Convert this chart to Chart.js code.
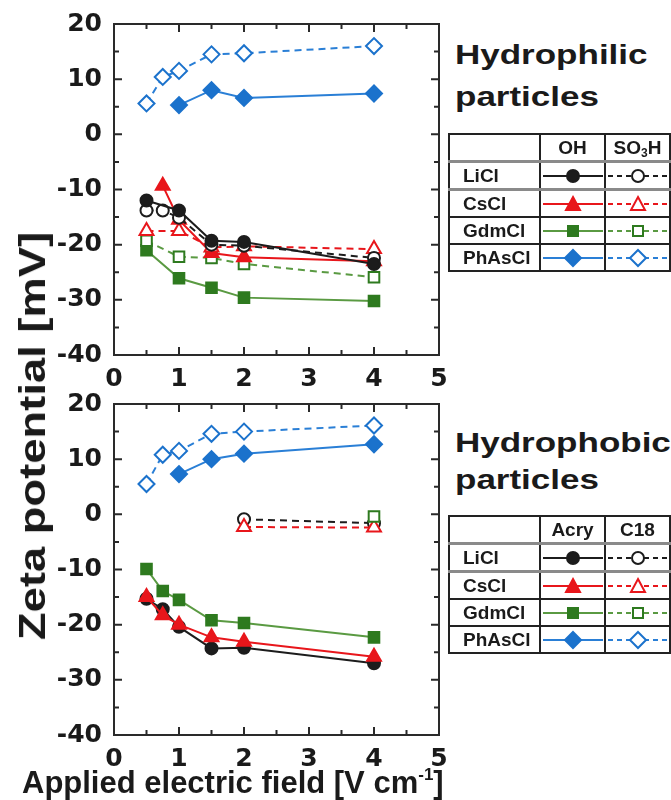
<!DOCTYPE html>
<html>
<head>
<meta charset="utf-8">
<script src="https://cdn.jsdelivr.net/npm/chart.js@4.4.0/dist/chart.umd.min.js"></script>
<style>
  body { margin: 0; width: 671px; height: 800px; overflow: hidden; position: relative; background: #fff;
         font-family: "Liberation Sans", Arial, sans-serif; font-weight: bold; color: #1a1a1a; }
  .plot { position: absolute; left: 0; }
  #topChart { top: 0; }
  #bottomChart { top: 380px; }
  .panel-title { position: absolute; left: 455px; font-size: 28px; line-height: 1; white-space: nowrap;
                 transform: scaleX(1.25); transform-origin: left center; }
  #yTitle { position: absolute; left: 33px; top: 436px; font-size: 36px; line-height: 1; white-space: nowrap;
            transform: translate(-50%, -50%) rotate(-90deg) scaleX(1.26); }
  #xTitle { position: absolute; left: 22px; top: 767px; font-size: 31px; line-height: 1; white-space: nowrap; }
  #xTitle sup { font-size: 17px; vertical-align: 13px; line-height: 0; }
  table.key { position: absolute; left: 448px; border-collapse: collapse; font-size: 19px; }
  table.key td { border: 2px solid #222; height: 25px; padding: 0; text-align: center; }
  table.key td.name { text-align: left; padding-left: 13px; width: 78px; }
  table.key td.sym { width: 63px; }
  table.key tr.head td { border-bottom: 3px solid #8a8a8a; }
  table.key tr.first td { border-bottom: 3px solid #8a8a8a; }
  table.key svg { display: block; margin: 0 auto; }
  sub { font-size: 12px; vertical-align: -3px; line-height: 0; }
</style>
</head>
<body>
<canvas id="topChart" class="plot" width="450" height="390"></canvas>
<canvas id="bottomChart" class="plot" width="450" height="390"></canvas>

<div class="panel-title" style="top:41px">Hydrophilic</div>
<div class="panel-title" style="top:83px">particles</div>
<div class="panel-title" style="top:429px">Hydrophobic</div>
<div class="panel-title" style="top:466px">particles</div>

<div id="yTitle">Zeta potential [mV]</div>
<div id="xTitle">Applied electric field [V cm<sup>-1</sup>]</div>

<table class="key" id="keyTop" style="top:133px"></table>
<table class="key" id="keyBottom" style="top:515px"></table>

<script>
// applied field (V/cm) shared by both panels
const fields = [0.5, 0.75, 1, 1.5, 2, 4];
const salts = ["LiCl", "CsCl", "GdmCl", "PhAsCl"];

// hydrophilic particles: OH (solid) and SO3H (dashed)
const liclOH    = [-12.0, null, -13.8, -19.3, -19.5, -23.5];
const liclSO3H  = [-13.8, -13.8, -15.1, -20.0, -20.2, -22.4];
const csclOH    = [null, -9.3, -15.5, -21.5, -22.3, -23.0];
const csclSO3H  = [-17.5, null, -17.5, -20.5, -20.3, -20.8];
const gdmOH     = [-21.0, null, -26.1, -27.8, -29.6, -30.2];
const gdmSO3H   = [-19.3, null, -22.2, -22.4, -23.5, -25.9];
const phasOH    = [null, null, 5.3, 8.0, 6.6, 7.4];
const phasSO3H  = [5.6, 10.4, 11.5, 14.5, 14.7, 16.0];

// hydrophobic particles: Acry (solid) and C18 (dashed)
const liclAcry  = [-15.3, -17.2, -20.4, -24.3, -24.2, -27.0];
const liclC18   = [null, null, null, null, -0.9, -1.6];
const csclAcry  = [-15.0, -18.3, -20.0, -22.3, -23.1, -25.8];
const csclC18   = [null, null, null, null, -2.3, -2.4];
const gdmAcry   = [-9.9, -13.9, -15.5, -19.2, -19.7, -22.3];
const gdmC18    = [null, null, null, null, null, -0.4];
const phasAcry  = [null, null, 7.3, 10.0, 11.0, 12.7];
const phasC18   = [5.5, 10.8, 11.5, 14.6, 15.0, 16.1];

const xTicks = [0, 1, 2, 3, 4, 5];
const yTicks = [-40, -30, -20, -10, 0, 10, 20];

const saltStyle = {
  LiCl:   { marker: "circle",   color: "#1c1c1c", line: "#1c1c1c", radius: 6 },
  CsCl:   { marker: "triangle", color: "#e8161b", line: "#e8161b", radius: 8 },
  GdmCl:  { marker: "rect",     color: "#2e7a1f", line: "#5a9a42", radius: 7.5 },
  PhAsCl: { marker: "rectRot",  color: "#1b72cc", line: "#2a7fd6", radius: 8 }
};

function series(salt, values, dashed) {
  const s = saltStyle[salt];
  return {
    label: salt + (dashed ? " dashed" : ""),
    data: fields.map((f, i) => ({ x: f, y: values[i] })),
    showLine: true,
    spanGaps: true,
    borderColor: s.line,
    borderWidth: 2,
    borderDash: dashed ? [7, 5] : [],
    pointStyle: s.marker,
    pointRadius: s.radius,
    pointBorderWidth: 2,
    pointBorderColor: s.color,
    pointBackgroundColor: dashed ? "#ffffff" : s.color
  };
}

// box with inward major/minor ticks on all four sides
const frameTicks = {
  id: "frameTicks",
  beforeDatasetsDraw(chart) {
    const { ctx, chartArea: a, scales: { x, y } } = chart;
    ctx.save();
    ctx.strokeStyle = "#2a2a2a";
    ctx.lineWidth = 2;
    ctx.strokeRect(a.left, a.top, a.right - a.left, a.bottom - a.top);
    ctx.beginPath();
    for (let v = 0.5; v < 5; v += 0.5) {
      const px = x.getPixelForValue(v);
      const len = v % 1 === 0 ? 8 : 5;
      ctx.moveTo(px, a.bottom); ctx.lineTo(px, a.bottom - len);
      ctx.moveTo(px, a.top); ctx.lineTo(px, a.top + len);
    }
    for (let v = -35; v < 20; v += 5) {
      const py = y.getPixelForValue(v);
      const len = v % 10 === 0 ? 8 : 5;
      ctx.moveTo(a.left, py); ctx.lineTo(a.left + len, py);
      ctx.moveTo(a.right, py); ctx.lineTo(a.right - len, py);
    }
    ctx.stroke();
    ctx.restore();
  }
};

const tickFont = { family: "DejaVu Sans", weight: "bold", size: 25 };

function makeChart(id, datasets) {
  return new Chart(id, {
    type: "scatter",
    data: { datasets },
    options: {
      responsive: false,
      animation: false,
      layout: { padding: { top: 24, right: 11, left: 0, bottom: 0 } },
      plugins: { legend: { display: false }, tooltip: { enabled: false } },
      scales: {
        x: {
          min: 0, max: 5,
          grid: { display: false },
          border: { display: false },
          afterBuildTicks: (scale) => { scale.ticks = xTicks.map(v => ({ value: v })); },
          afterFit: (scale) => { scale.height = 35; },
          ticks: { color: "#1a1a1a", font: tickFont, padding: 1, maxRotation: 0 }
        },
        y: {
          min: -40, max: 20,
          grid: { display: false },
          border: { display: false },
          afterBuildTicks: (scale) => { scale.ticks = yTicks.map(v => ({ value: v })); },
          afterFit: (scale) => { scale.width = 114; },
          ticks: { color: "#1a1a1a", font: tickFont, padding: 4 }
        }
      }
    },
    plugins: [frameTicks]
  });
}

// first dataset ends up drawn on top
makeChart("topChart", [
  series("PhAsCl", phasOH, false), series("PhAsCl", phasSO3H, true),
  series("LiCl", liclOH, false), series("LiCl", liclSO3H, true),
  series("CsCl", csclSO3H, true), series("CsCl", csclOH, false),
  series("GdmCl", gdmSO3H, true), series("GdmCl", gdmOH, false)
]);

makeChart("bottomChart", [
  series("PhAsCl", phasAcry, false), series("PhAsCl", phasC18, true),
  series("CsCl", csclAcry, false), series("LiCl", liclAcry, false),
  series("GdmCl", gdmAcry, false),
  series("GdmCl", gdmC18, true), series("CsCl", csclC18, true), series("LiCl", liclC18, true)
]);

// key tables: line + marker symbols per salt
function markerSvg(salt, dashed) {
  const s = saltStyle[salt];
  const fill = dashed ? "#fff" : s.color;
  const cx = 32, cy = 12;
  let m = "";
  if (s.marker === "circle") m = `<circle cx="${cx}" cy="${cy}" r="6" />`;
  if (s.marker === "triangle") m = `<polygon points="${cx},${cy - 7} ${cx + 7},${cy + 6} ${cx - 7},${cy + 6}" />`;
  if (s.marker === "rect") m = `<rect x="${cx - 5}" y="${cy - 5}" width="10" height="10" />`;
  if (s.marker === "rectRot") m = `<polygon points="${cx},${cy - 8} ${cx + 8},${cy} ${cx},${cy + 8} ${cx - 8},${cy}" />`;
  const dash = dashed ? 'stroke-dasharray="5,4"' : "";
  return `<svg width="63" height="24"><line x1="2" y1="${cy}" x2="62" y2="${cy}" stroke="${s.line}" stroke-width="2" ${dash}/>` +
    `<g fill="${fill}" stroke="${s.color}" stroke-width="2">${m}</g></svg>`;
}

function buildKey(id, headA, headB) {
  let html = `<tr class="head"><td class="name"></td><td class="sym">${headA}</td><td class="sym">${headB}</td></tr>`;
  salts.forEach((salt, i) => {
    html += `<tr${i === 0 ? ' class="first"' : ""}><td class="name">${salt}</td>` +
      `<td class="sym">${markerSvg(salt, false)}</td><td class="sym">${markerSvg(salt, true)}</td></tr>`;
  });
  document.getElementById(id).innerHTML = html;
}

buildKey("keyTop", "OH", "SO<sub>3</sub>H");
buildKey("keyBottom", "Acry", "C18");
</script>
</body>
</html>
